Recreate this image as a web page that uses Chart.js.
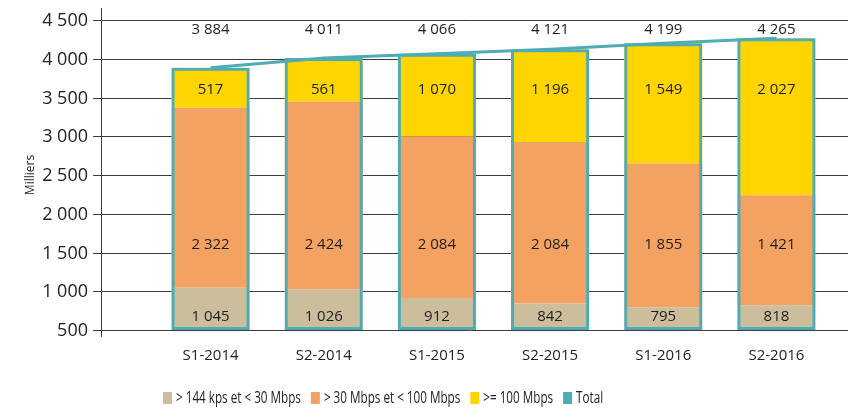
<!DOCTYPE html>
<html>
<head>
<meta charset="utf-8">
<script src="https://cdn.jsdelivr.net/npm/chart.js@4.4.0/dist/chart.umd.min.js"></script>
<style>
  html, body { margin: 0; padding: 0; background: #fff; }
  #wrap { width: 854px; height: 411px; }
</style>
</head>
<body>
<div id="wrap"><canvas id="chart" width="854" height="411"></canvas></div>
<script>
// data
const categories = ['S1-2014', 'S2-2014', 'S1-2015', 'S2-2015', 'S1-2016', 'S2-2016'];
const lowSpeed = [1045, 1026, 912, 842, 795, 818];
const midSpeed = [2322, 2424, 2084, 2084, 1855, 1421];
const highSpeed = [517, 561, 1070, 1196, 1549, 2027];
const totals = [3884, 4011, 4066, 4121, 4199, 4265];
const yTicks = [500, 1000, 1500, 2000, 2500, 3000, 3500, 4000, 4500];

const seriesNames = ['> 144 kps et < 30 Mbps', '> 30 Mbps et < 100 Mbps', '>= 100 Mbps', 'Total'];
const colors = ['#CCBE9C', '#F3A261', '#FFD500', '#4EACB7'];

const FONT = "'Open Sans', sans-serif";
const yMin = yTicks[0];
const yMax = yTicks[yTicks.length - 1];

const fmt = v => String(v).replace(/\B(?=(\d{3})+(?!\d))/g, ' ');

// gridlines, axis line and y labels: the original runs them wider than the category band
const gridPlugin = {
  id: 'grid',
  beforeDatasetsDraw(chart) {
    const { ctx } = chart;
    const y = chart.scales.y;
    ctx.save();
    ctx.strokeStyle = '#3c3c3c';
    ctx.lineWidth = 1;
    ctx.fillStyle = '#222';
    ctx.font = '18px ' + FONT;
    ctx.textAlign = 'right';
    ctx.textBaseline = 'middle';
    yTicks.forEach(t => {
      const py = Math.round(y.getPixelForValue(t)) + 0.5;
      ctx.beginPath();
      ctx.moveTo(93, py);
      ctx.lineTo(848, py);
      ctx.stroke();
      ctx.fillText(fmt(t), 88, py);
    });
    ctx.beginPath();
    ctx.moveTo(101.5, 8);
    ctx.lineTo(101.5, 337);
    ctx.stroke();

    ctx.font = '12px ' + FONT;
    ctx.textAlign = 'center';
    ctx.translate(31, (chart.chartArea.top + chart.chartArea.bottom) / 2);
    ctx.rotate(-Math.PI / 2);
    ctx.fillText('Milliers', 0, 0);
    ctx.restore();
  }
};

const labelPlugin = {
  id: 'labels',
  afterDatasetsDraw(chart) {
    const { ctx } = chart;
    const y = chart.scales.y;
    const bars = chart.getDatasetMeta(0).data;
    const rows = [
      [lowSpeed, 668],
      [midSpeed, 1598],
      [highSpeed, 3600],
      [totals, 4376]
    ];
    ctx.save();
    ctx.fillStyle = '#1e1e1e';
    ctx.font = '15px ' + FONT;
    ctx.textAlign = 'center';
    ctx.textBaseline = 'middle';
    rows.forEach(([vals, level]) => {
      const py = y.getPixelForValue(level);
      vals.forEach((v, i) => ctx.fillText(fmt(v), bars[i].x, py));
    });
    ctx.restore();
  }
};

// legend text is condensed in the original, squeeze Open Sans horizontally
const legendPlugin = {
  id: 'customLegend',
  afterDraw(chart) {
    const { ctx } = chart;
    const squeeze = 0.73;
    ctx.save();
    ctx.font = '16px ' + FONT;
    ctx.textBaseline = 'middle';
    let x = 163;
    const cy = 398;
    seriesNames.forEach((name, i) => {
      ctx.fillStyle = colors[i];
      ctx.fillRect(x, cy - 6, 9, 12);
      ctx.fillStyle = '#222';
      ctx.save();
      ctx.translate(x + 13, cy);
      ctx.scale(squeeze, 1);
      ctx.fillText(name, 0, 0);
      ctx.restore();
      x += 13 + ctx.measureText(name).width * squeeze + 10;
    });
    ctx.restore();
  }
};

const barCommon = {
  type: 'bar',
  stack: 'speed',
  grouped: false,
  barPercentage: 0.69,
  categoryPercentage: 1,
  borderWidth: 0,
  order: 2
};

new Chart(document.getElementById('chart'), {
  data: {
    labels: categories,
    datasets: [
      Object.assign({}, barCommon, { label: seriesNames[0], data: lowSpeed, backgroundColor: colors[0] }),
      Object.assign({}, barCommon, { label: seriesNames[1], data: midSpeed, backgroundColor: colors[1] }),
      Object.assign({}, barCommon, { label: seriesNames[2], data: highSpeed, backgroundColor: colors[2] }),
      {
        type: 'bar',
        label: seriesNames[3],
        stack: 'total',
        grouped: false,
        barPercentage: 0.69,
        categoryPercentage: 1,
        data: totals.map(t => [yMin, t]),
        backgroundColor: 'rgba(0,0,0,0)',
        borderColor: colors[3],
        borderWidth: 3,
        borderSkipped: false,
        order: 0
      },
      {
        type: 'line',
        label: 'Total (ligne)',
        stack: 'line',
        data: totals,
        borderColor: colors[3],
        borderWidth: 3,
        pointRadius: 0,
        fill: false,
        order: 1
      }
    ]
  },
  options: {
    responsive: false,
    animation: false,
    layout: { padding: { top: 20, right: 21, bottom: 29, left: 0 } },
    plugins: {
      legend: { display: false },
      tooltip: { enabled: false }
    },
    scales: {
      x: {
        stacked: true,
        offset: true,
        grid: { display: false, drawTicks: false },
        border: { display: false },
        ticks: { font: { family: FONT, size: 15 }, color: '#222', padding: 17 }
      },
      y: {
        stacked: true,
        min: yMin,
        max: yMax,
        afterFit(s) { s.width = 154; },
        afterBuildTicks(s) { s.ticks = yTicks.map(v => ({ value: v })); },
        grid: { display: false, drawTicks: false },
        border: { display: false },
        ticks: { display: false }
      }
    }
  },
  plugins: [gridPlugin, labelPlugin, legendPlugin]
});
</script>
</body>
</html>
